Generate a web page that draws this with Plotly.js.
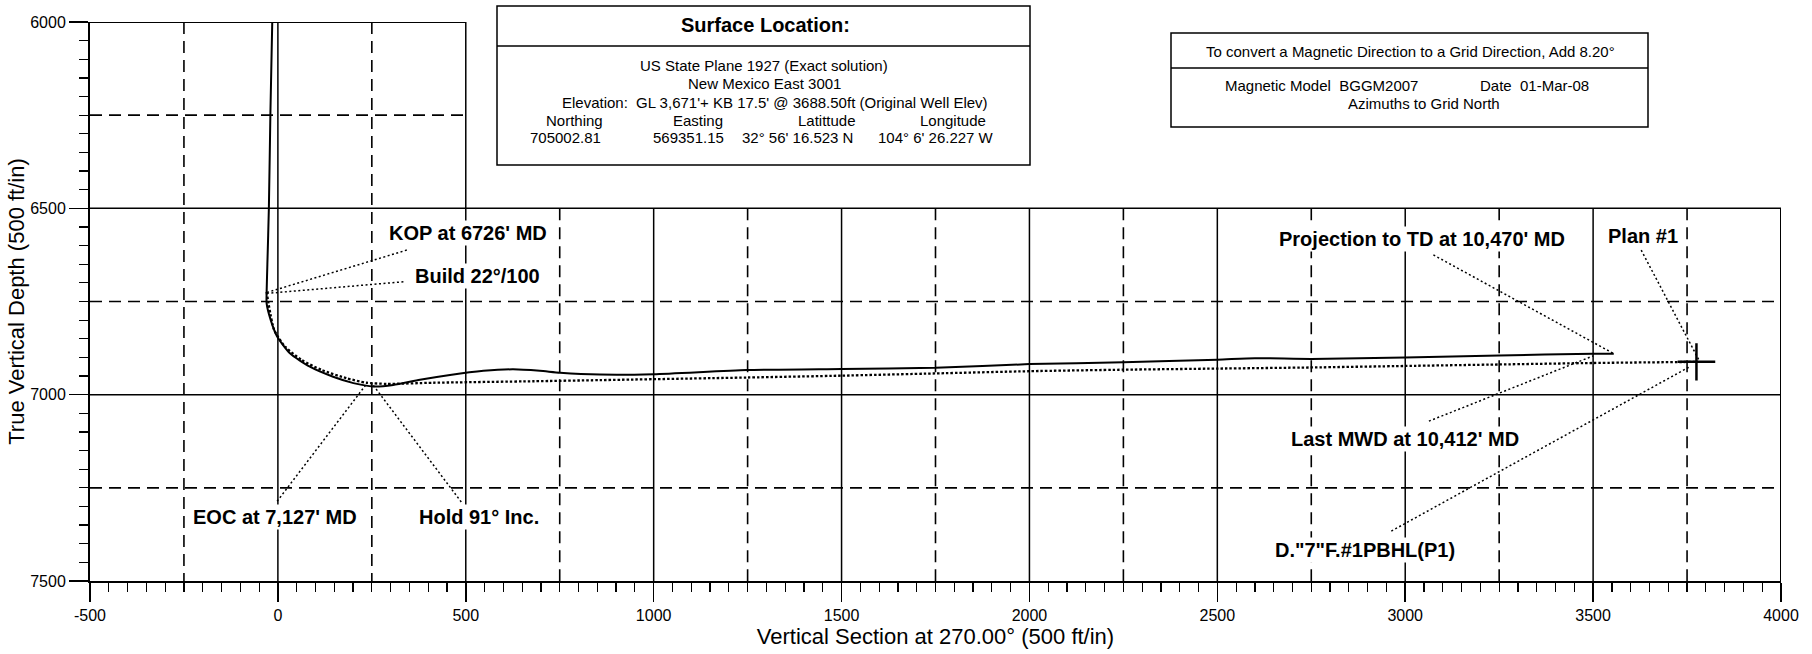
<!DOCTYPE html>
<html>
<head>
<meta charset="utf-8">
<script src="https://cdn.plot.ly/plotly-3.0.1.min.js"></script>
<style>html,body{margin:0;padding:0;background:#fff;}#chart{width:1812px;height:654px;}</style>
</head>
<body>
<div id="chart"></div>
<script>
// ---------- data ----------
// Actual wellpath (solid): vertical section (ft) and TVD (ft)
const vsActual  = [-15, -20, -24, -28, -30, -30, -19, -2, 32, 85, 147, 201, 254, 307, 378, 458, 547, 626, 697, 751, 857, 1000, 1248, 1500, 1750, 2000, 2250, 2500, 2600, 2750, 3000, 3250, 3500, 3555];
const tvdActual = [6000, 6250, 6500, 6650, 6726, 6755, 6800, 6844, 6889, 6925, 6952, 6969, 6978, 6974, 6960, 6947, 6936, 6932, 6936, 6941, 6946, 6945, 6934, 6931, 6928, 6918, 6913, 6906, 6902, 6904, 6900, 6895, 6890, 6890];

// Plan #1 (dotted)
const vsPlan  = [-30, -10, 19, 63, 117, 183, 236, 290, 414, 680, 857, 1248, 1500, 1750, 2000, 2250, 2500, 2750, 3000, 3250, 3500, 3775];
const tvdPlan = [6724, 6826, 6871, 6907, 6934, 6956, 6968, 6971, 6968, 6964, 6961, 6954, 6949, 6943, 6937, 6933, 6930, 6927, 6923, 6919, 6915, 6912];

// PBHL target cross
const targetVS  = [3725, 3825, null, 3775, 3775];
const targetTVD = [6912, 6912, null, 6862, 6962];

// Axis ticks
const xTicks = [-500, 0, 500, 1000, 1500, 2000, 2500, 3000, 3500, 4000];
const yTicks = [6000, 6500, 7000, 7500];

// Callout labels (text, label position, leader start, leader end) in data units
const calloutText = ["KOP at 6726' MD", "Build 22°/100", "EOC at 7,127' MD", "Hold 91° Inc.",
                     "Projection to TD at 10,470' MD", "Plan #1", "Last MWD at 10,412' MD", 'D."7"F.#1PBHL(P1)'];
const calloutLabelVS  = [507, 532, -9, 536, 3044, 3632, 3000, 2894];
const calloutLabelTVD = [6566, 6681, 7328, 7328, 6582, 6574, 7119, 7417];
const leaderFromVS  = [343, 334, -2, 488, 3075, 3628, 3063, 2963];
const leaderFromTVD = [6612, 6697, 7286, 7288, 6625, 6612, 7071, 7366];
const leaderToVS    = [-30, -26, 233, 254, 3555, 3782, 3500, 3759];
const leaderToTVD   = [6726, 6728, 6975, 6975, 6890, 6908, 6896, 6924];

// Info box texts
const surfTitle = "Surface Location:";
const surfLines = ["US State Plane 1927 (Exact solution)", "New Mexico East 3001"];
const elevLabel = "Elevation:";
const elevText  = "GL 3,671'+ KB 17.5' @ 3688.50ft (Original Well Elev)";
const coordHeads  = ["Northing", "Easting", "Latittude", "Longitude"];
const coordValues = ["705002.81", "569351.15", "32° 56' 16.523 N", "104° 6' 26.227 W"];
const magLine1 = "To convert a Magnetic Direction to a Grid Direction, Add 8.20°";
const magModel = "Magnetic Model\u00a0 BGGM2007";
const magDate  = "Date\u00a0 01-Mar-08";
const magAz    = "Azimuths to Grid North";

// ---------- layout helpers ----------
const FONT = "Liberation Sans, Arial, Helvetica, sans-serif";
const L = 90, T = 22, W = 1691, H = 559;
const px = v => (v - L) / W;
const py = v => (T + H - v) / H;
const X0 = -500, X1 = 4000, Y0 = 6000, Y1 = 7500;

const shapes = [];
// grid
for (let v = -250; v < X1; v += 250) {
  const solid = v % 500 === 0;
  shapes.push({type: 'line', layer: 'below', xref: 'x', yref: 'y', x0: v, x1: v,
    y0: v <= 500 ? Y0 : 6500, y1: Y1,
    line: {color: '#000', width: solid ? 1.5 : 1.6, dash: solid ? 'solid' : '12px,7px'}});
}
for (let v = 6250; v < Y1; v += 250) {
  const solid = v % 500 === 0;
  shapes.push({type: 'line', layer: 'below', xref: 'x', yref: 'y', x0: X0, x1: v < 6500 ? 500 : X1,
    y0: v, y1: v,
    line: {color: '#000', width: solid ? 1.5 : 1.6, dash: solid ? 'solid' : '12px,7px'}});
}
// partial borders
shapes.push({type: 'line', xref: 'x', yref: 'y', x0: X0, x1: 500, y0: Y0, y1: Y0, line: {color: '#000', width: 2}});
shapes.push({type: 'line', xref: 'x', yref: 'y', x0: X1, x1: X1, y0: 6500, y1: Y1, line: {color: '#000', width: 2}});
// leader lines
for (let i = 0; i < calloutText.length; i++) {
  shapes.push({type: 'line', xref: 'x', yref: 'y', x0: leaderFromVS[i], y0: leaderFromTVD[i],
    x1: leaderToVS[i], y1: leaderToTVD[i], line: {color: '#000', width: 1.5, dash: '2px,2.5px'}});
}
// info boxes
function box(x0, x1, y0, y1, yd) {
  shapes.push({type: 'rect', xref: 'paper', yref: 'paper', x0: px(x0), x1: px(x1), y0: py(y1), y1: py(y0),
    fillcolor: '#fff', line: {color: '#000', width: 1.5}, layer: 'above'});
  shapes.push({type: 'line', xref: 'paper', yref: 'paper', x0: px(x0), x1: px(x1), y0: py(yd), y1: py(yd),
    line: {color: '#000', width: 1.5}, layer: 'above'});
}
box(497, 1030, 6, 165, 46);
box(1171, 1648, 33, 127, 68);

const annotations = [];
for (let i = 0; i < calloutText.length; i++) {
  annotations.push({xref: 'x', yref: 'y', x: calloutLabelVS[i], y: calloutLabelTVD[i], text: calloutText[i],
    showarrow: false, bgcolor: '#fff', borderpad: 1, xanchor: 'center', yanchor: 'middle',
    font: {family: FONT, size: 20, color: '#000', weight: 'bold'}});
}
function ptext(text, x, y, anchor, size, bold) {
  annotations.push({xref: 'paper', yref: 'paper', x: px(x), y: py(y), text: text, showarrow: false,
    xanchor: anchor, yanchor: 'middle', font: {family: FONT, size: size, color: '#000', weight: bold ? 'bold' : 'normal'}});
}
ptext(surfTitle, 765, 25, 'center', 20, true);
ptext(surfLines[0], 764, 66, 'center', 15);
ptext(surfLines[1], 764, 84, 'center', 15);
ptext(elevLabel, 630, 102, 'right', 15);
ptext(elevText, 634, 102, 'left', 15);
const headX = [574, 698, 827, 953];
const valX = [565, 688, 797, 936];
coordHeads.forEach((t, i) => ptext(t, headX[i], 120, 'center', 15));
coordValues.forEach((t, i) => ptext(t, valX[i], 137, 'center', 15));
ptext(magLine1, 1410, 51, 'center', 15);
ptext(magModel, 1223, 86, 'left', 15);
ptext(magDate, 1478, 86, 'left', 15);
ptext(magAz, 1424, 104, 'center', 15);

const traces = [
  {x: vsPlan, y: tvdPlan, mode: 'lines', name: 'Plan #1', hoverinfo: 'skip',
   line: {color: '#000', width: 2.3, dash: '2.5px,2px', shape: 'spline', smoothing: 0.6}},
  {x: vsActual, y: tvdActual, mode: 'lines', name: 'Actual', hoverinfo: 'skip',
   line: {color: '#000', width: 2, shape: 'spline', smoothing: 0.6}},
  {x: targetVS, y: targetTVD, mode: 'lines', name: 'PBHL', hoverinfo: 'skip',
   line: {color: '#000', width: 2.5}}
];

const axisCommon = {
  ticks: 'outside', ticklen: 19, tickwidth: 1.5, tickcolor: '#000',
  showgrid: false, zeroline: false, showline: true, linewidth: 2, linecolor: '#000',
  tickfont: {family: FONT, size: 16, color: '#000'}, automargin: false,
  minor: {dtick: 50, ticks: 'outside', ticklen: 9, tickwidth: 1.2, tickcolor: '#000', showgrid: false}
};

const layout = {
  width: 1812, height: 654,
  margin: {l: L, r: 1812 - L - W, t: T, b: 654 - T - H},
  paper_bgcolor: '#fff', plot_bgcolor: '#fff',
  showlegend: false,
  xaxis: Object.assign({}, axisCommon, {
    range: [X0, X1], tickmode: 'array', tickvals: xTicks, ticktext: xTicks.map(String),
    minor: Object.assign({}, axisCommon.minor, {tick0: 0}),
    title: {text: 'Vertical Section at 270.00° (500 ft/in)', font: {family: FONT, size: 22, color: '#000'}, standoff: 5}
  }),
  yaxis: Object.assign({}, axisCommon, {
    range: [Y1, Y0], tickmode: 'array', tickvals: yTicks, ticktext: yTicks.map(String),
    minor: Object.assign({}, axisCommon.minor, {tick0: 6000}),
    title: {text: 'True Vertical Depth (500 ft/in)', font: {family: FONT, size: 22, color: '#000'}, standoff: 0}
  }),
  shapes: shapes,
  annotations: annotations
};

Plotly.newPlot('chart', traces, layout, {displayModeBar: false, staticPlot: true});
</script>
</body>
</html>
